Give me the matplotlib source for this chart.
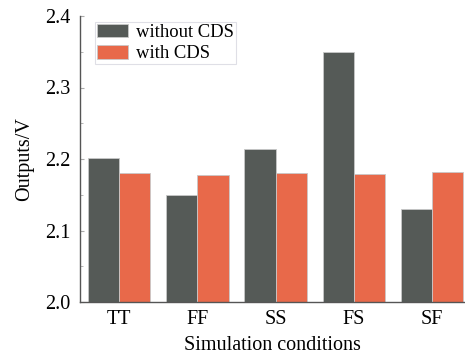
import numpy as np
import matplotlib
matplotlib.use('Agg')
import matplotlib.pyplot as plt
from matplotlib.ticker import MultipleLocator

# Data
conditions = ['TT', 'FF', 'SS', 'FS', 'SF']
without_cds = [2.201, 2.150, 2.214, 2.350, 2.130]
with_cds = [2.180, 2.178, 2.180, 2.179, 2.182]

plt.rcParams['font.family'] = 'Liberation Serif'
fs = 14.5

fig = plt.figure(figsize=(4.65, 3.56), dpi=100)
ax = fig.add_axes([80 / 465, 54 / 356, 385 / 465, 286 / 356])

x = np.arange(len(conditions))
w = 0.4
ax.bar(x - w / 2, without_cds, w, color='#555a57', edgecolor='#c8c8c8',
       linewidth=0.6, label='without CDS')
ax.bar(x + w / 2, with_cds, w, color='#e8694a', edgecolor='#c8c8c8',
       linewidth=0.6, label='with CDS')

ax.set_ylim(2.0, 2.4)
ax.set_xlim(-0.5, 4.42)
ax.set_xticks(x)
ax.set_xticklabels(conditions)
ax.yaxis.set_major_locator(MultipleLocator(0.1))
ax.yaxis.set_minor_locator(MultipleLocator(0.05))
ax.yaxis.set_major_formatter(matplotlib.ticker.FormatStrFormatter('%.1f'))

for s in ['top', 'right']:
    ax.spines[s].set_visible(False)
for s in ['left', 'bottom']:
    ax.spines[s].set_color('#555555')
    ax.spines[s].set_linewidth(1.0)

ax.tick_params(axis='y', which='major', direction='in', length=3, color='#aaaaaa',
               labelsize=fs, pad=7)
ax.tick_params(axis='y', which='minor', direction='in', length=2, color='#aaaaaa')
ax.tick_params(axis='x', length=0, labelsize=fs, pad=6)

ax.set_xlabel('Simulation conditions', fontsize=fs, labelpad=5)
ax.set_ylabel('Outputs/V', fontsize=fs, labelpad=8)

leg = ax.legend(loc='upper left', bbox_to_anchor=(15 / 385, 1 - 6 / 286),
                borderaxespad=0, fontsize=13.4,
                frameon=True, fancybox=False, edgecolor='#d8d8e0',
                handlelength=1.65, handleheight=0.75, borderpad=0.1,
                labelspacing=0.2, handletextpad=0.45)
leg.get_frame().set_linewidth(0.8)

fig.savefig('out.png', dpi=100)
